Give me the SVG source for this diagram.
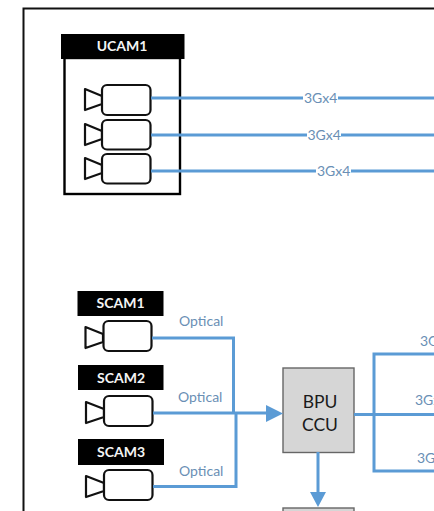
<svg xmlns="http://www.w3.org/2000/svg" width="434" height="511" viewBox="0 0 434 511">
<style>
.cam{fill:#fff;stroke:#111;stroke-width:2.200;stroke-linejoin:round}
.hd{fill:#000}
.ht{font:bold 14px Lato,"Liberation Sans",sans-serif;fill:#f4f4f4;text-anchor:middle}
.w{fill:none;stroke:#5b9bd5;stroke-width:3;stroke-linejoin:miter}
.lb{font:14px Lato,"Liberation Sans",sans-serif;fill:#6a8fb5}
.lg{fill:#fff}
.box{fill:#d6d6d6;stroke:#666;stroke-width:1.4}
.bt{font:17.500px Lato,"Liberation Sans",sans-serif;fill:#1a1a1a;text-anchor:middle}
.ah{fill:#5b9bd5}
</style>
<rect width="434" height="511" fill="#fff"/>
<path d="M23.500 511V8.500H434" fill="none" stroke="#111" stroke-width="2"/>
<g id="ucam1">
<rect x="64.500" y="58" width="115.500" height="136" fill="#fff" stroke="#000" stroke-width="2.400"/>
<rect class="hd" x="61" y="34" width="123.500" height="25"/>
<text class="ht" x="122" y="51">UCAM1</text>
<path class="cam" d="M85 89L102 96V104L85 110Z"/><rect class="cam" x="102" y="85" width="48.500" height="30" rx="5"/>
<path class="cam" d="M85 124L102 131V139L85 145Z"/><rect class="cam" x="102" y="120" width="48.500" height="29.500" rx="5"/>
<path class="cam" d="M85 158L102 165V173L85 179Z"/><rect class="cam" x="102" y="154" width="48.500" height="29.500" rx="5"/>
</g>
<g id="scam1">
<rect class="hd" x="77.500" y="291" width="86" height="25"/>
<text class="ht" x="120.500" y="308">SCAM1</text>
<path class="cam" d="M85.500 327L103 334V342L85.500 348Z"/><rect class="cam" x="103.500" y="321" width="48" height="30" rx="5"/>
</g>
<g id="scam2">
<rect class="hd" x="78" y="365" width="85.500" height="25"/>
<text class="ht" x="121" y="383">SCAM2</text>
<path class="cam" d="M86 402L104 409V417L86 423Z"/><rect class="cam" x="104" y="396" width="48.500" height="30" rx="5"/>
</g>
<g id="scam3">
<rect class="hd" x="78" y="439" width="86" height="26"/>
<text class="ht" x="121" y="457">SCAM3</text>
<path class="cam" d="M86 476L104 483V491L86 497Z"/><rect class="cam" x="104" y="470" width="48.500" height="30" rx="5"/>
</g>
<g id="bpu-ccu">
<rect class="box" x="283" y="368" width="71" height="84.500"/>
<text class="bt" x="320" y="408">BPU</text>
<text class="bt" x="320" y="431">CCU</text>
</g>
<g id="lower-box">
<rect class="box" x="283" y="508" width="71" height="10"/>
</g>
<g id="connectors">
<path class="w" d="M151 98H434"/>
<path class="w" d="M151 135H434"/>
<path class="w" d="M151 171H434"/>
<path class="w" d="M152 338H233.500V413"/>
<path class="w" d="M153 413H267"/>
<path class="w" d="M153 486.500H236V413"/>
<path class="ah" d="M266 405L283 413.500L266 422Z"/>
<path class="w" d="M354 414.500H434"/>
<path class="w" d="M434 354H374V471H434"/>
<path class="w" d="M318 452V492"/>
<path class="ah" d="M310 492H326L318 507Z"/>
</g>
<g id="labels">
<rect class="lg" x="303" y="90" width="35" height="16"/><text class="lb" x="304" y="103">3Gx4</text>
<rect class="lg" x="307" y="127" width="34" height="16"/><text class="lb" x="307.500" y="140">3Gx4</text>
<rect class="lg" x="316" y="163" width="35" height="16"/><text class="lb" x="317" y="176">3Gx4</text>
<text class="lb" x="179" y="326">Optical</text>
<text class="lb" x="178" y="402">Optical</text>
<text class="lb" x="179" y="476">Optical</text>
<text class="lb" x="420" y="346">3Gx4</text>
<text class="lb" x="415" y="405">3Gx4</text>
<text class="lb" x="417" y="463">3Gx4</text>
</g>
</svg>
